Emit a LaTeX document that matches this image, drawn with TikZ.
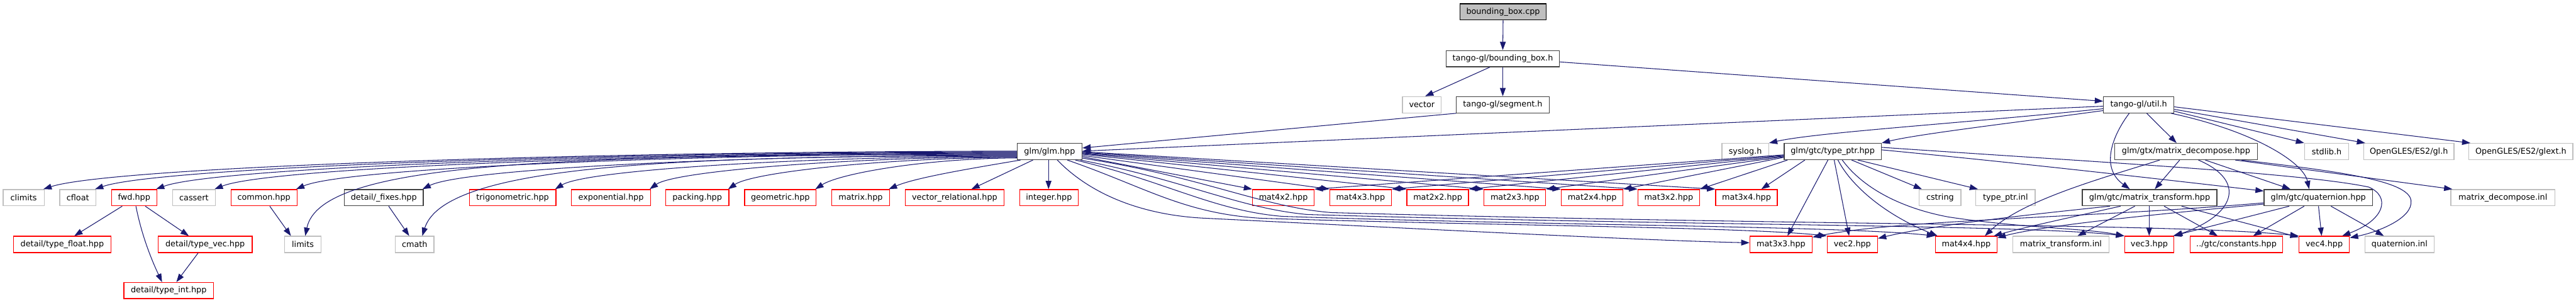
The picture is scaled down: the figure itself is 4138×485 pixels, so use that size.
\documentclass[tikz,border=0pt]{standalone}
\usepackage{fontspec}
\setmainfont{DejaVu Sans}
\usetikzlibrary{arrows.meta}
\definecolor{edgec}{HTML}{191970}
\definecolor{grayb}{HTML}{BFBFBF}
\definecolor{darkb}{HTML}{404040}
\tikzset{
  boxbase/.style={line width=1pt, inner sep=0pt, fill=white, font=\fontsize{9.7pt}{11pt}\selectfont, text=black},
  nb/.style={boxbase, draw=darkb},
  nr/.style={boxbase, draw=red},
  ng/.style={boxbase, draw=grayb},
  nm/.style={boxbase, draw=black, fill=grayb},
  ed/.style={draw=edgec, line width=0.8pt, -{Triangle[length=10pt,width=7pt]}}
}
\newcommand\bx[6]{\node[#5,minimum width={(#3-#2)*0.75pt},minimum height=19.5pt] (#1) at ({(#2+#3)/2},{#4+13}) {#6};}
\begin{document}
\begin{tikzpicture}[x=0.75pt,y=-0.75pt]
\fill[white] (0,0) rectangle (4138,485);
\useasboundingbox (0,0) rectangle (4138,485);
% row 0-2
\bx{cpp}{2345}{2484}{6}{nm}{bounding\_box.cpp}
\bx{bbh}{2323}{2505}{81}{nb}{tango-gl/bounding\_box.h}
\bx{vector}{2253}{2315}{155}{ng}{vector}
\bx{seg}{2339}{2489}{155}{nb}{tango-gl/segment.h}
\bx{util}{3379}{3492}{155}{nb}{tango-gl/util.h}
% row 3
\bx{glm}{1634}{1738}{230}{nb}{glm/glm.hpp}
\bx{syslog}{2766}{2841}{230}{ng}{syslog.h}
\bx{tptr}{2866}{3022}{230}{nb}{glm/gtc/type\_ptr.hpp}
\bx{mdec}{3397}{3626}{230}{nb}{glm/gtx/matrix\_decompose.hpp}
\bx{stdlib}{3702}{3773}{230}{ng}{stdlib.h}
\bx{gl}{3797}{3942}{230}{ng}{OpenGLES/ES2/gl.h}
\bx{glext}{3966}{4133}{230}{ng}{OpenGLES/ES2/glext.h}
% row 4
\bx{climits}{5}{71}{304}{ng}{climits}
\bx{cfloat}{96}{154}{304}{ng}{cfloat}
\bx{fwd}{179}{252}{304}{nr}{fwd.hpp}
\bx{cassert}{277}{346}{304}{ng}{cassert}
\bx{common}{371}{477}{304}{nr}{common.hpp}
\bx{fixes}{553}{680}{304}{nb}{detail/\_fixes.hpp}
\bx{trig}{754}{893}{304}{nr}{trigonometric.hpp}
\bx{expo}{918}{1045}{304}{nr}{exponential.hpp}
\bx{packing}{1069}{1171}{304}{nr}{packing.hpp}
\bx{geom}{1196}{1311}{304}{nr}{geometric.hpp}
\bx{matrix}{1336}{1429}{304}{nr}{matrix.hpp}
\bx{vrel}{1454}{1613}{304}{nr}{vector\_relational.hpp}
\bx{integer}{1638}{1732}{304}{nr}{integer.hpp}
\bx{m42}{2012}{2111}{304}{nr}{mat4x2.hpp}
\bx{m43}{2136}{2235}{304}{nr}{mat4x3.hpp}
\bx{m22}{2260}{2359}{304}{nr}{mat2x2.hpp}
\bx{m23}{2384}{2483}{304}{nr}{mat2x3.hpp}
\bx{m24}{2508}{2607}{304}{nr}{mat2x4.hpp}
\bx{m32}{2631}{2730}{304}{nr}{mat3x2.hpp}
\bx{m34}{2756}{2855}{304}{nr}{mat3x4.hpp}
\bx{cstring}{3083}{3150}{304}{ng}{cstring}
\bx{tpinl}{3174}{3269}{304}{ng}{type\_ptr.inl}
\bx{mtr}{3345}{3561}{304}{nb}{glm/gtc/matrix\_transform.hpp}
\bx{quat}{3637}{3811}{304}{nb}{glm/gtc/quaternion.hpp}
\bx{mdinl}{3937}{4104}{304}{ng}{matrix\_decompose.inl}
% row 5
\bx{tfloat}{22}{178}{379}{nr}{detail/type\_float.hpp}
\bx{tvec}{254}{405}{379}{nr}{detail/type\_vec.hpp}
\bx{limits}{457}{516}{379}{ng}{limits}
\bx{cmath}{635}{697}{379}{ng}{cmath}
\bx{m33}{2811}{2911}{379}{nr}{mat3x3.hpp}
\bx{vec2}{2935}{3016}{379}{nr}{vec2.hpp}
\bx{m44}{3109}{3208}{379}{nr}{mat4x4.hpp}
\bx{mtinl}{3233}{3388}{379}{ng}{matrix\_transform.inl}
\bx{vec3}{3413}{3492}{379}{nr}{vec3.hpp}
\bx{const}{3518}{3667}{379}{nr}{../gtc/constants.hpp}
\bx{vec4}{3693}{3774}{379}{nr}{vec4.hpp}
\bx{qinl}{3799}{3910}{379}{ng}{quaternion.inl}
% row 6
\bx{tint}{199}{343}{453}{nr}{detail/type\_int.hpp}

% ---- edges: top
\draw[ed] (cpp.south) -- (bbh.north);
\draw[ed] ([shift={(71,0)}]bbh.south west) -- ([shift={(37,0)}]vector.north west);
\draw[ed] (bbh.south) -- (seg.north);
\draw[ed] ([shift={(0,19)}]bbh.north east) -- ([shift={(0,8)}]util.north west);
\draw[ed] ([shift={(1,0)}]seg.south west) -- ([shift={(0,8)}]glm.north east);
% util.h
\draw[ed] ([shift={(0,16)}]util.north west) -- ([shift={(0,13)}]glm.north east);
\draw[ed] ([shift={(0,20)}]util.north west) .. controls (3150,198) and (2920,212) .. (syslog.north east);
\draw[ed] ([shift={(0,23)}]util.north west) .. controls (3250,195) and (3080,215) .. (tptr.north east);
\draw[ed] ([shift={(70,0)}]util.south west) -- ([shift={(100,0)}]mdec.north west);
\draw[ed] ([shift={(42,0)}]util.south west) .. controls (3395,215) and (3372,268) .. ([shift={(77,0)}]mtr.north west);
\draw[ed] ([shift={(109,0)}]util.south west) .. controls (3620,210) and (3700,260) .. ([shift={(73,0)}]quat.north west);
\draw[ed] ([shift={(0,24)}]util.north east) -- (stdlib.north west);
\draw[ed] ([shift={(0,21)}]util.north east) -- ([shift={(3,0)}]gl.north west);
\draw[ed] ([shift={(0,17)}]util.north east) -- ([shift={(3,0)}]glext.north west);
% glm.hpp to the left
\draw[ed] ([shift={(0,13)}]glm.north west) .. controls (930,243) and (179,268) .. ([shift={(-2,0)}]climits.north east);
\draw[ed] ([shift={(0,14)}]glm.north west) .. controls (967,244) and (256,268) .. ([shift={(-2,0)}]cfloat.north east);
\draw[ed] ([shift={(0,15)}]glm.north west) .. controls (1011,245) and (347,268) .. ([shift={(-2,0)}]fwd.north east);
\draw[ed] ([shift={(0,16)}]glm.north west) .. controls (1054,246) and (434,268) .. ([shift={(-2,0)}]cassert.north east);
\draw[ed] ([shift={(0,17)}]glm.north west) .. controls (1112,247) and (556,269) .. ([shift={(-2,0)}]common.north east);
\draw[ed] ([shift={(0,18)}]glm.north west) .. controls (900,249) and (515,258) .. ([shift={(34,0)}]limits.north west);
\draw[ed] ([shift={(0,19)}]glm.north west) .. controls (1204,249) and (745,270) .. ([shift={(-2,0)}]fixes.north east);
\draw[ed] ([shift={(0,20)}]glm.north west) .. controls (1100,251) and (715,262) .. ([shift={(44,0)}]cmath.north west);
\draw[ed] ([shift={(0,21)}]glm.north west) .. controls (1300,251) and (943,272) .. ([shift={(-2,0)}]trig.north east);
\draw[ed] ([shift={(0,22)}]glm.north west) .. controls (1368,252) and (1084,274) .. ([shift={(-2,0)}]expo.north east);
\draw[ed] ([shift={(0,23)}]glm.north west) .. controls (1425,253) and (1209,276) .. ([shift={(-2,0)}]packing.north east);
\draw[ed] ([shift={(0,24)}]glm.north west) .. controls (1488,254) and (1349,278) .. ([shift={(-2,0)}]geom.north east);
\draw[ed] ([shift={(6,0)}]glm.south west) .. controls (1560,270) and (1470,285) .. ([shift={(-2,0)}]matrix.north east);
\draw[ed] ([shift={(26,0)}]glm.south west) -- ([shift={(107,0)}]vrel.north west);
\draw[ed] ([shift={(51,0)}]glm.south west) -- ([shift={(47,0)}]integer.north west);
% glm.hpp to the mat boxes
\draw[ed] ([shift={(0,22)}]glm.north east) -- (m42.north west);
\draw[ed] ([shift={(0,20)}]glm.north east) -- (m43.north west);
\draw[ed] ([shift={(0,18)}]glm.north east) -- (m22.north west);
\draw[ed] ([shift={(0,17)}]glm.north east) -- (m23.north west);
\draw[ed] ([shift={(0,16)}]glm.north east) -- (m24.north west);
\draw[ed] ([shift={(0,15)}]glm.north east) -- (m32.north west);
\draw[ed] ([shift={(0,14)}]glm.north east) -- (m34.north west);
% glm.hpp long curves to row 5
\draw[ed] ([shift={(65,0)}]glm.south west) .. controls (1760,320) and (1850,346) .. (1936,350) .. controls (2300,368) and (2650,386) .. ([shift={(0,11)}]m33.north west);
\draw[ed] ([shift={(81,0)}]glm.south west) .. controls (1840,300) and (1900,342) .. (2025,350) .. controls (2400,362) and (2800,364) .. (vec2.north west);
\draw[ed] ([shift={(94,0)}]glm.south west) .. controls (1870,290) and (1950,338) .. (2060,347) .. controls (2500,362) and (2950,362) .. (m44.north west);
\draw[ed] ([shift={(102,0)}]glm.south west) .. controls (1900,288) and (1990,334) .. (2100,344) .. controls (2700,362) and (3250,360) .. (vec3.north west);
\draw[ed] ([shift={(0,-3)}]glm.south east) .. controls (1930,283) and (2030,333) .. (2140,341) .. controls (2900,362) and (3500,358) .. (vec4.north west);
% fwd, common, fixes
\draw[ed] ([shift={(18,0)}]fwd.south west) -- ([shift={(98,0)}]tfloat.north west);
\draw[ed] ([shift={(40,0)}]fwd.south west) .. controls (228,380) and (245,420) .. ([shift={(62,0)}]tint.north west);
\draw[ed] ([shift={(55,0)}]fwd.south west) -- ([shift={(50,0)}]tvec.north west);
\draw[ed] ([shift={(65,0)}]tvec.south west) -- ([shift={(85,0)}]tint.north west);
\draw[ed] ([shift={(63,0)}]common.south west) -- ([shift={(11,0)}]limits.north west);
\draw[ed] ([shift={(72,0)}]fixes.south west) -- ([shift={(23,0)}]cmath.north west);
% type_ptr.hpp
\draw[ed] ([shift={(0,19)}]tptr.north west) -- (m42.north east);
\draw[ed] ([shift={(0,20)}]tptr.north west) -- (m43.north east);
\draw[ed] ([shift={(0,21)}]tptr.north west) -- (m22.north east);
\draw[ed] ([shift={(0,22)}]tptr.north west) -- (m23.north east);
\draw[ed] ([shift={(0,23)}]tptr.north west) -- (m24.north east);
\draw[ed] ([shift={(6,0)}]tptr.south west) -- (m32.north east);
\draw[ed] ([shift={(34,0)}]tptr.south west) -- ([shift={(74,0)}]m34.north west);
\draw[ed] ([shift={(71,0)}]tptr.south west) -- ([shift={(61,0)}]m33.north west);
\draw[ed] ([shift={(81,0)}]tptr.south west) -- ([shift={(36,0)}]vec2.north west);
\draw[ed] ([shift={(87,0)}]tptr.south west) .. controls (2975,300) and (3030,345) .. ([shift={(4,0)}]m44.north west);
\draw[ed] ([shift={(94,0)}]tptr.south west) .. controls (2995,305) and (3060,335) .. (3130,348) .. controls (3250,366) and (3350,366) .. (vec3.north west);
\draw[ed] ([shift={(109,0)}]tptr.south west) -- ([shift={(5,0)}]cstring.north west);
\draw[ed] ([shift={(119,0)}]tptr.south west) -- ([shift={(4,0)}]tpinl.north west);
\draw[ed] ([shift={(0,11)}]tptr.north east) .. controls (3250,262) and (3450,285) .. ([shift={(0,3)}]quat.north west);
\draw[ed] ([shift={(0,7)}]tptr.north east) .. controls (3400,262) and (3700,278) .. (3805,300) .. controls (3840,315) and (3832,352) .. ([shift={(70,0)}]vec4.north west);
% matrix_decompose.hpp
\draw[ed] ([shift={(73,0)}]mdec.south west) .. controls (3380,285) and (3250,320) .. ([shift={(80,0)}]m44.north west);
\draw[ed] ([shift={(105,0)}]mdec.south west) -- ([shift={(117,0)}]mtr.north west);
\draw[ed] ([shift={(135,0)}]mdec.south west) .. controls (3610,290) and (3590,345) .. (vec3.north east);
\draw[ed] ([shift={(146,0)}]mdec.south west) -- ([shift={(43,0)}]quat.north west);
\draw[ed] ([shift={(-36,0)}]mdec.south east) -- ([shift={(3,0)}]mdinl.north west);
\draw[ed] ([shift={(-26,0)}]mdec.south east) .. controls (3760,275) and (3870,290) .. (3873,322) .. controls (3876,350) and (3820,372) .. ([shift={(0,3)}]vec4.north east);
% matrix_transform.hpp
\draw[ed] ([shift={(45,0)}]mtr.south west) .. controls (3250,345) and (3100,362) .. ([shift={(0,4)}]vec2.north east);
\draw[ed] ([shift={(62,0)}]mtr.south west) .. controls (3320,350) and (3250,365) .. ([shift={(-6,0)}]m44.north east);
\draw[ed] ([shift={(85,0)}]mtr.south west) -- ([shift={(105,0)}]mtinl.north west);
\draw[ed] ([shift={(108,0)}]mtr.south west) -- ([shift={(40,0)}]vec3.north west);
\draw[ed] ([shift={(132,0)}]mtr.south west) -- ([shift={(45,0)}]const.north west);
\draw[ed] ([shift={(160,0)}]mtr.south west) -- ([shift={(0,2)}]vec4.north west);
% quaternion.hpp
\draw[ed] ([shift={(0,22)}]quat.north west) .. controls (3350,350) and (3050,352) .. ([shift={(0,2)}]m33.north east);
\draw[ed] ([shift={(0,24)}]quat.north west) .. controls (3450,345) and (3280,362) .. ([shift={(0,3)}]m44.north east);
\draw[ed] ([shift={(41,0)}]quat.south west) -- ([shift={(-2,0)}]vec3.north east);
\draw[ed] ([shift={(65,0)}]quat.south west) -- ([shift={(102,0)}]const.north west);
\draw[ed] ([shift={(88,0)}]quat.south west) -- ([shift={(37,0)}]vec4.north west);
\draw[ed] ([shift={(108,0)}]quat.south west) -- ([shift={(31,0)}]qinl.north west);
\end{tikzpicture}
\end{document}
